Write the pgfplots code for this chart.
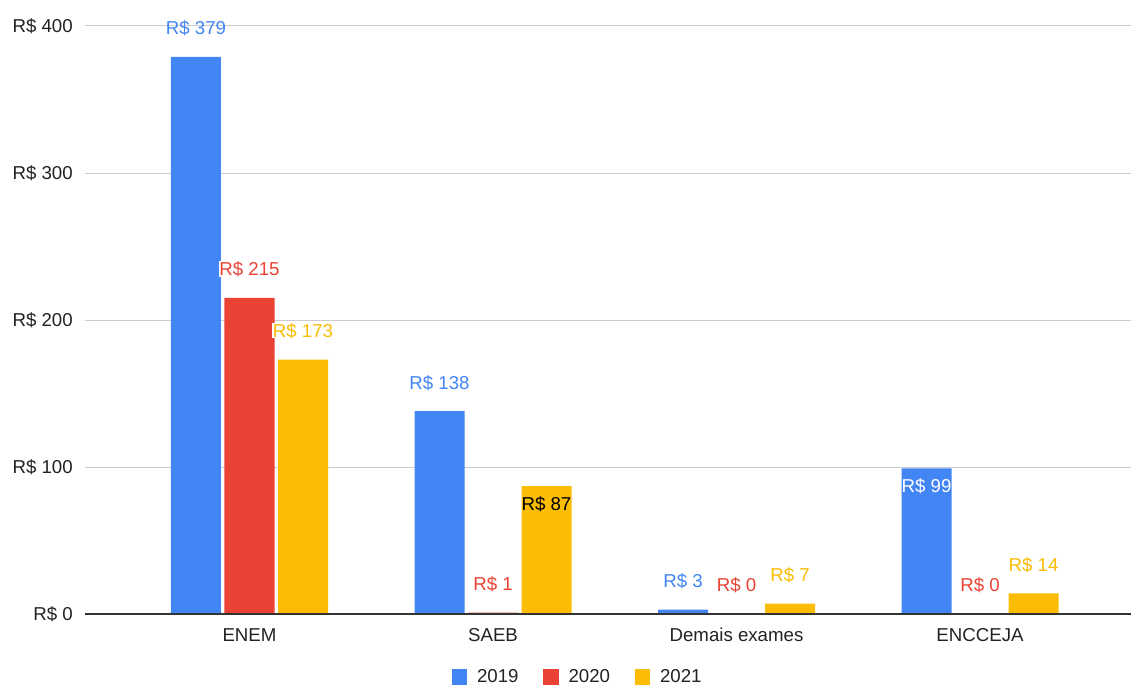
\documentclass[border=0pt]{standalone}
\usepackage{pgfplots}
\pgfplotsset{compat=1.18}
\usepackage{fontspec}
\setmainfont{Liberation Sans}
\definecolor{cblue}{HTML}{4285F4}
\definecolor{cred}{HTML}{EA4335}
\definecolor{cyel}{HTML}{FBBC04}
\definecolor{tgray}{HTML}{222222}
\definecolor{gridc}{HTML}{CCCCCC}
\definecolor{axc}{HTML}{333333}
\begin{document}
\begin{tikzpicture}[font=\fontsize{14}{16}\selectfont]
\begin{axis}[
  at={(0,0)}, anchor=south west,
  scale only axis, width=784.5pt, height=441pt,
  xmin=-0.67556, xmax=3.62012, ymin=0, ymax=400,
  clip=false,
  axis line style={draw=none},
  major tick length=0pt,
  ytick={0,100,200,300,400},
  ymajorgrids, grid style={gridc, line width=0.75pt},
  yticklabel={R\$ \pgfmathprintnumber{\tick}},
  /pgf/number format/assume math mode=true,
  yticklabel style={anchor=east, inner sep=0pt, xshift=-9pt, text depth=0pt, text=tgray},
  xtick={0,1,2,3},
  xticklabels={ENEM,SAEB,Demais exames,ENCCEJA},
  xticklabel style={anchor=center, inner sep=0pt, yshift=-15.75pt, text depth=0pt, text=tgray},
  point meta=explicit symbolic,
  every node near coord/.append style={anchor=center, text depth=0pt, inner sep=0.6pt},
  legend style={at={(0.4713,-0.107)}, anchor=center, legend columns=3, draw=none, fill=none,
    text=tgray, /tikz/every even column/.append style={column sep=16.5pt}},
  legend cell align=left,
  legend image code/.code={\fill[#1] (0pt,-5.8pt) rectangle (11.6pt,5.8pt); \path (17pt,0pt);},
]
\addplot[ybar, bar width=37.5pt, bar shift=-40.125pt, fill=cblue, draw=none]
  coordinates {(0,379) (1,138) (2,3) (3,99)};
\addlegendentry{2019}
\addplot[ybar, bar width=37.5pt, bar shift=0pt, fill=cred, draw=none]
  coordinates {(0,215) (1,1) (2,0.05) (3,0.3)};
\addlegendentry{2020}
\addplot[ybar, bar width=37.5pt, bar shift=40.125pt, fill=cyel, draw=none]
  coordinates {(0,173) (1,87) (2,7) (3,14)};
\addlegendentry{2021}
% data labels (x positions at the bar centres: group +/- 0.2197)
\addplot[ybar, forget plot, bar width=1pt, bar shift=0pt, draw=none, fill=none,
  nodes near coords, every node near coord/.append style={text=cblue, yshift=21.75pt}]
  coordinates {(-0.2197,379) [R\$ 379] (0.7803,138) [R\$ 138] (1.7803,3) [R\$ 3]};
\addplot[ybar, forget plot, bar width=1pt, bar shift=0pt, draw=none, fill=none,
  nodes near coords, every node near coord/.append style={text=white, yshift=-13pt}]
  coordinates {(2.7803,99) [R\$ 99]};
\addplot[ybar, forget plot, bar width=1pt, bar shift=0pt, draw=none, fill=none,
  nodes near coords, every node near coord/.append style={text=cred, fill=white, yshift=21.75pt}]
  coordinates {(0,215) [R\$ 215] (1,1) [R\$ 1] (2,0.05) [R\$ 0] (3,0.3) [R\$ 0]};
\addplot[ybar, forget plot, bar width=1pt, bar shift=0pt, draw=none, fill=none,
  nodes near coords, every node near coord/.append style={text=cyel, fill=white, yshift=21.75pt}]
  coordinates {(0.2197,173) [R\$ 173] (2.2197,7) [R\$ 7] (3.2197,14) [R\$ 14]};
\addplot[ybar, forget plot, bar width=1pt, bar shift=0pt, draw=none, fill=none,
  nodes near coords, every node near coord/.append style={text=black, yshift=-13pt}]
  coordinates {(1.2197,87) [R\$ 87]};
\draw[axc, line width=1pt] (rel axis cs:0,0) -- (rel axis cs:1,0);
\end{axis}
\pgfresetboundingbox
\path (-63.75pt,-54pt) rectangle (784.5pt,460.5pt);
\end{tikzpicture}
\end{document}
